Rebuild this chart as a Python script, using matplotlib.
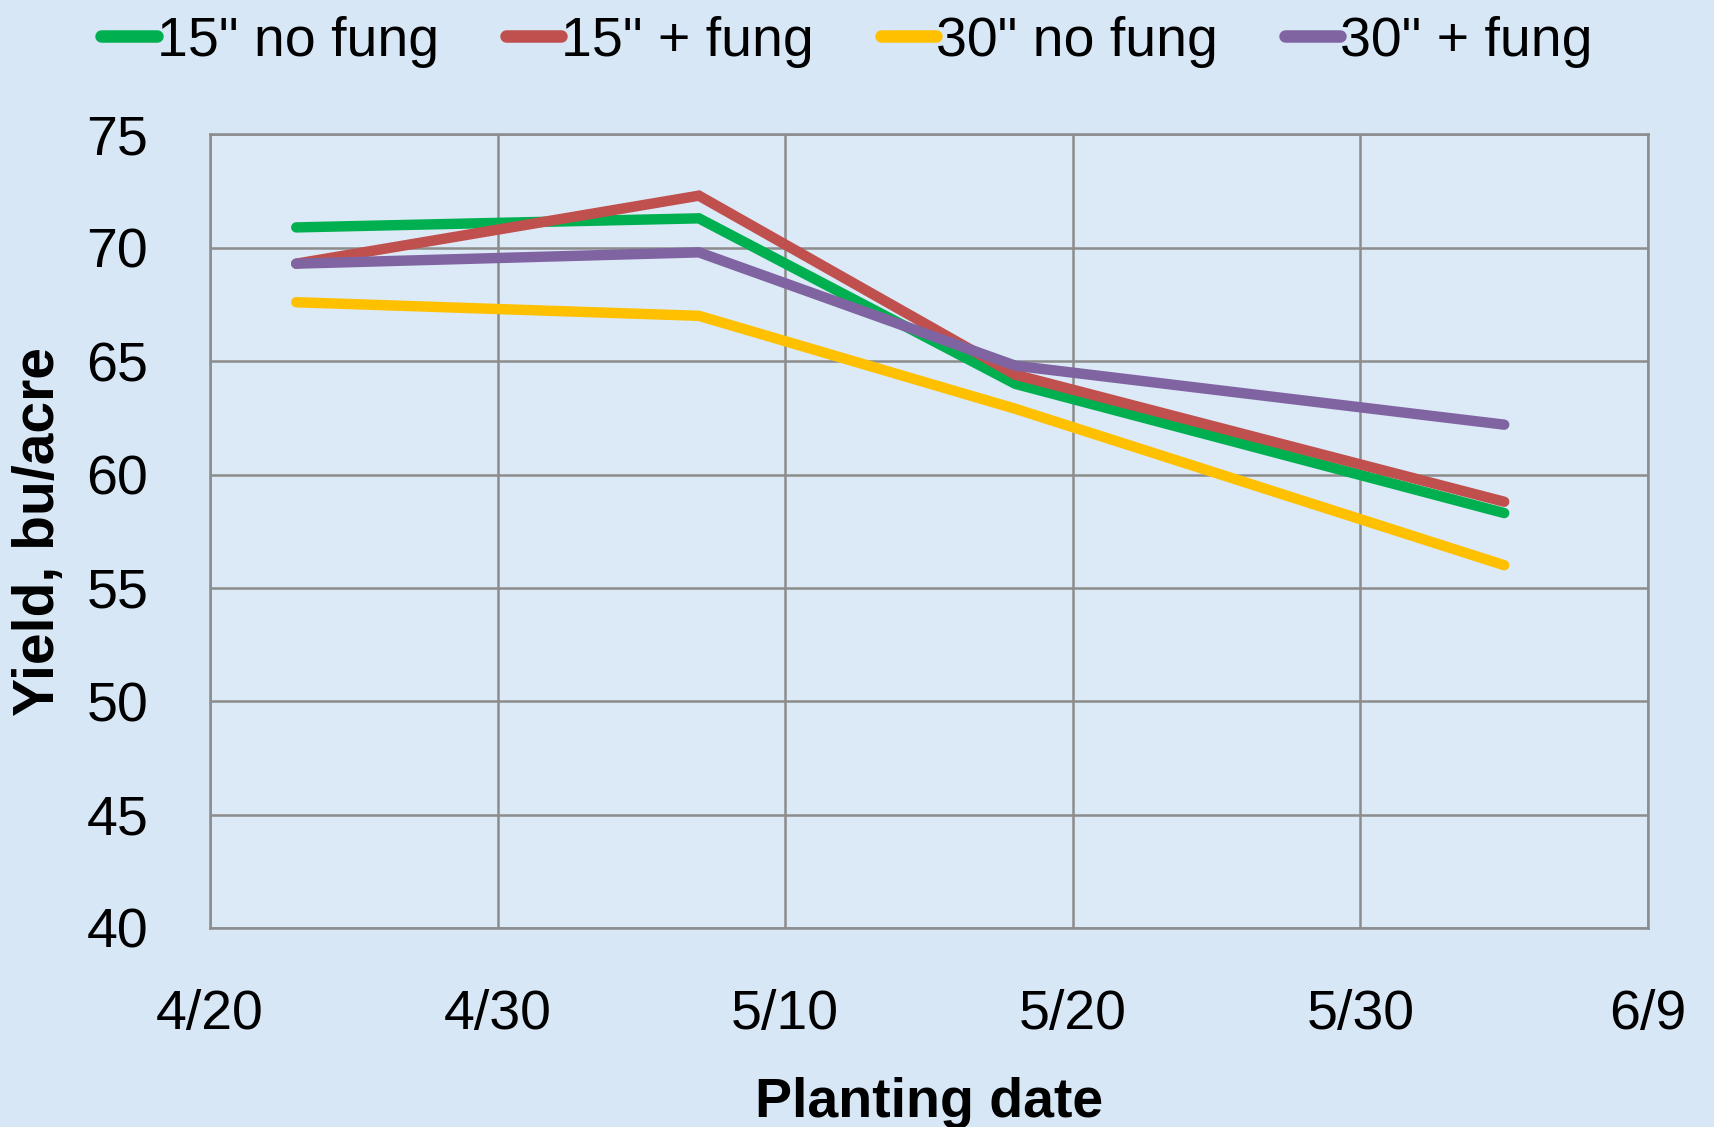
import datetime as dt
import matplotlib
matplotlib.use("Agg")
import matplotlib.pyplot as plt
import matplotlib.dates as mdates

plt.rcParams['font.family'] = ['Liberation Sans', 'DejaVu Sans']

# planting dates and yields (bu/acre)
dates = [dt.date(2014, 4, 23), dt.date(2014, 5, 7), dt.date(2014, 5, 18), dt.date(2014, 6, 4)]
no_fung_15 = [70.9, 71.3, 64.0, 58.3]
fung_15 = [69.3, 72.3, 64.4, 58.8]
no_fung_30 = [67.6, 67.0, 62.9, 56.0]
fung_30 = [69.3, 69.8, 64.8, 62.2]
labels = ['15" no fung', '15" + fung', '30" no fung', '30" + fung']
colors = ['#00b050', '#c0504d', '#ffc000', '#8064a2']
tick_dates = [dt.date(2014, 4, 20) + dt.timedelta(days=10 * i) for i in range(6)]

bg = '#d8e7f6'
fig = plt.figure(figsize=(17.14, 11.27), dpi=100, facecolor=bg)
ax = fig.add_axes([0.1225, 0.1766, 0.839, 0.7041])
ax.set_facecolor('#dce9f7')

for ys, lab, c in zip([no_fung_15, fung_15, no_fung_30, fung_30], labels, colors):
    ax.plot(dates, ys, color=c, linewidth=7.5, solid_capstyle='round',
            solid_joinstyle='miter', label=lab)

ax.set_xlim(tick_dates[0], tick_dates[-1])
ax.set_ylim(40, 75)
ax.set_yticks(range(40, 76, 5))
ax.set_xticks(tick_dates)
ax.xaxis.set_major_formatter(mdates.DateFormatter('%-m/%-d'))
ax.grid(True, color='#8c8c8c', linewidth=1.8)
ax.set_axisbelow(True)
for s in ax.spines.values():
    s.set_color('#8c8c8c')
    s.set_linewidth(1.8)
ax.tick_params(length=0, labelsize=40)
ax.tick_params(axis='x', pad=44)
ax.tick_params(axis='y', pad=89)
for t in ax.get_yticklabels():
    t.set_horizontalalignment('left')

ax.set_ylabel('Yield, bu/acre', fontsize=41, fontweight='bold')
ax.yaxis.set_label_coords(-0.1004, 0.5)
ax.set_xlabel('Planting date', fontsize=40, fontweight='bold', labelpad=26)

leg = ax.legend(loc='center', bbox_to_anchor=(0.443, 1.117), ncol=4, frameon=False,
                fontsize=40, handlelength=1.0, handletextpad=0.0, columnspacing=1.2)
for h in leg.get_lines():
    h.set_linewidth(9)
    h.set_solid_capstyle('round')

fig.savefig('out.png', dpi=100, facecolor=bg)
